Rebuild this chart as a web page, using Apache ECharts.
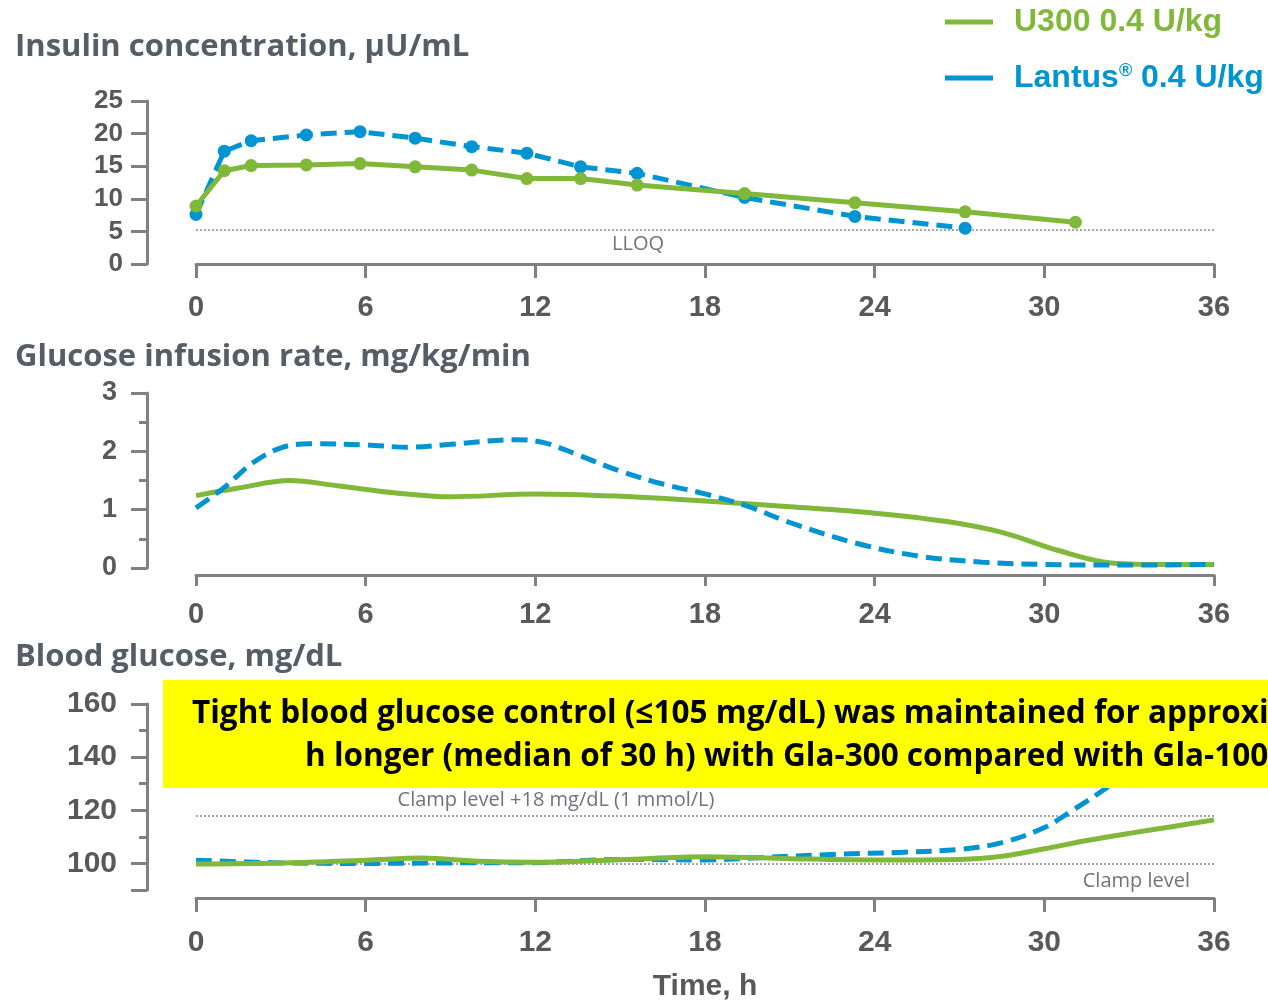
<!DOCTYPE html>
<html>
<head>
<meta charset="utf-8">
<script src="https://cdn.jsdelivr.net/npm/echarts@6/dist/echarts.min.js"></script>
<style>
html,body{margin:0;padding:0;background:#fff;}
#chart{width:1268px;height:1004px;}
</style>
</head>
<body>
<div id="chart"></div>
<script>
// ---------- DATA ----------
const seriesNames = ['U300 0.4 U/kg', 'Lantus® 0.4 U/kg'];

// Insulin concentration (µU/mL)
const insulinTimeU300 = [0, 1.0, 1.95, 3.9, 5.8, 7.75, 9.75, 11.7, 13.6, 15.6, 19.4, 23.3, 27.2, 31.1];
const insulinU300     = [8.9, 14.3, 15.1, 15.2, 15.4, 14.9, 14.4, 13.1, 13.1, 12.1, 10.8, 9.4, 8.0, 6.4];
const insulinTimeLantus = [0, 1.0, 1.95, 3.9, 5.8, 7.75, 9.75, 11.7, 13.6, 15.6, 19.4, 23.3, 27.2];
const insulinLantus     = [7.6, 17.3, 18.9, 19.8, 20.3, 19.3, 18.0, 17.0, 14.9, 13.9, 10.2, 7.3, 5.5];
const lloq = 5.2;

// Glucose infusion rate (mg/kg/min)
const girTimeU300 = [0, 1.5, 3.3, 5, 7, 9, 12, 15, 18, 21, 24, 26.5, 28.5, 30.5, 32.3, 34, 36];
const girU300     = [1.24, 1.37, 1.50, 1.41, 1.29, 1.22, 1.27, 1.23, 1.15, 1.05, 0.94, 0.80, 0.61, 0.30, 0.09, 0.06, 0.06];
const girTimeLantus = [0, 1, 2, 3, 4, 6, 7.5, 9, 11.3, 12.3, 13.5, 15, 16.5, 18, 19.5, 21, 23.3, 25.6, 27.8, 30, 33, 36];
const girLantus     = [1.03, 1.38, 1.80, 2.06, 2.13, 2.11, 2.07, 2.12, 2.20, 2.15, 1.94, 1.66, 1.44, 1.27, 1.06, 0.78, 0.43, 0.20, 0.10, 0.06, 0.05, 0.06];

// Blood glucose (mg/dL)
const bgTimeU300 = [0, 3, 6, 8, 10, 12, 15, 18, 21, 24, 27, 28.5, 30, 31.5, 33, 34.5, 36];
const bgU300     = [99.8, 100.2, 101.2, 102.0, 100.8, 100.4, 101.4, 102.5, 101.8, 101.3, 101.5, 102.7, 105.5, 108.6, 111.3, 113.8, 116.4];
const bgTimeLantus = [0, 3, 6, 9, 12, 15, 18, 20, 22.5, 25, 27, 28.5, 30, 31, 32.2, 33.2];
const bgLantus     = [101.2, 100.2, 100.0, 100.2, 100.3, 101.5, 101.3, 102.2, 103.4, 104.2, 105.3, 107.8, 113.5, 120.0, 128.5, 137.0];
const clampLevel = 100;
const clampPlus = 118;

const bgLabelTicks = [100, 120, 140, 160];
const bgMajorTicks = [90, 100, 120, 140, 160];
const bgMinorTicks = [110, 130, 150];

// ---------- STYLE ----------
const GREEN = '#80b83a';
const BLUE = '#0094d2';
const AXIS = '#808080';
const TEXT = '#595959';
const TITLE = '#555d66';
const NOTE = '#6d747b';
const NUMFONT = '"Liberation Sans", Arial, sans-serif';
const SANS = '"Open Sans", "Noto Sans", sans-serif';

function pairs(xs, ys) { return xs.map((x, i) => [x, ys[i]]); }

const grids = [
  {left: 196, right: 54, top: 101, height: 163, outerBoundsMode: 'none', containLabel: false},
  {left: 196, right: 54, top: 393, height: 175, outerBoundsMode: 'none', containLabel: false},
  {left: 196, right: 54, top: 704, height: 186, outerBoundsMode: 'none', containLabel: false}
];

function xAxisFor(i, offset, extra) {
  return Object.assign({
    type: 'value', gridIndex: i, min: 0, max: 36, interval: 6, offset: offset,
    axisLine: {show: true, onZero: false, lineStyle: {color: AXIS, width: 3}},
    axisTick: {show: true, length: 14, lineStyle: {color: AXIS, width: 3}},
    axisLabel: {fontFamily: NUMFONT, fontWeight: 'bold', fontSize: 29, color: TEXT, margin: 29},
    splitLine: {show: false}
  }, extra || {});
}

const yCommon = {
  type: 'value', position: 'left', offset: 49,
  axisLine: {show: true, onZero: false, lineStyle: {color: AXIS, width: 3}},
  axisTick: {show: true, length: 16, lineStyle: {color: AXIS, width: 3}},
  splitLine: {show: false}
};

const dotted = {type: 'dotted', color: '#a6a6a6', width: 2};

const option = {
  animation: false,
  backgroundColor: '#ffffff',
  grid: grids,
  legend: {
    orient: 'vertical', left: 945, top: 6, itemGap: 24, padding: 0,
    icon: 'rect', itemWidth: 48, itemHeight: 5,
    textStyle: {fontFamily: NUMFONT, fontWeight: 'bold', fontSize: 32, padding: [0, 0, 0, 16],
      rich: {
        g: {fontFamily: NUMFONT, fontWeight: 'bold', fontSize: 32, color: GREEN},
        b: {fontFamily: NUMFONT, fontWeight: 'bold', fontSize: 32, color: BLUE},
        s: {fontFamily: NUMFONT, fontWeight: 'bold', fontSize: 18, color: BLUE, verticalAlign: 'top', padding: [0, 0, 12, 0]}
      }},
    formatter: function (name) {
      if (name === seriesNames[0]) return '{g|' + name + '}';
      return '{b|Lantus}{s|®}{b| 0.4 U/kg}';
    },
    data: [seriesNames[0], seriesNames[1]]
  },
  xAxis: [
    xAxisFor(0, 0),
    xAxisFor(1, 7, {axisTick: {show: true, length: 11, lineStyle: {color: AXIS, width: 3}},
      axisLabel: {fontFamily: NUMFONT, fontWeight: 'bold', fontSize: 29, color: TEXT, margin: 25}}),
    xAxisFor(2, 8, {
      name: 'Time, h', nameLocation: 'middle', nameGap: 74,
      nameTextStyle: {fontFamily: NUMFONT, fontWeight: 'bold', fontSize: 30, color: TEXT},
      axisLabel: {fontFamily: NUMFONT, fontWeight: 'bold', fontSize: 30, color: TEXT, margin: 30}
    })
  ],
  yAxis: [
    Object.assign({}, yCommon, {gridIndex: 0, min: 0, max: 25, interval: 5,
      axisLabel: {fontFamily: NUMFONT, fontWeight: 'bold', fontSize: 26, color: TEXT, margin: 24}}),
    Object.assign({}, yCommon, {gridIndex: 1, min: 0, max: 3, interval: 1,
      minorTick: {show: true, splitNumber: 2, length: 8, lineStyle: {color: AXIS, width: 3}},
      axisLabel: {fontFamily: NUMFONT, fontWeight: 'bold', fontSize: 27, color: TEXT, margin: 30}}),
    Object.assign({}, yCommon, {gridIndex: 2, min: 90, max: 160,
      axisTick: {show: true, length: 16, customValues: bgMajorTicks, lineStyle: {color: AXIS, width: 3}},
      axisLabel: {fontFamily: NUMFONT, fontWeight: 'bold', fontSize: 30, color: TEXT, margin: 30, customValues: bgLabelTicks}}),
    Object.assign({}, yCommon, {gridIndex: 2, min: 90, max: 160,
      axisLine: {show: false, onZero: false},
      axisTick: {show: true, length: 8, customValues: bgMinorTicks, lineStyle: {color: AXIS, width: 3}},
      axisLabel: {show: false}})
  ],
  series: [
    {
      name: seriesNames[1], type: 'line', xAxisIndex: 0, yAxisIndex: 0,
      data: pairs(insulinTimeLantus, insulinLantus),
      symbol: 'circle', symbolSize: 13, color: BLUE, itemStyle: {color: BLUE},
      lineStyle: {color: BLUE, width: 5, type: [16, 8]}, z: 3,
      markLine: {silent: true, symbol: 'none', label: {show: false}, lineStyle: dotted, data: [{yAxis: lloq}], z: 1}
    },
    {
      name: seriesNames[0], type: 'line', xAxisIndex: 0, yAxisIndex: 0,
      data: pairs(insulinTimeU300, insulinU300),
      symbol: 'circle', symbolSize: 13, color: GREEN, itemStyle: {color: GREEN},
      lineStyle: {color: GREEN, width: 5}, z: 4
    },
    {
      name: seriesNames[1], type: 'line', xAxisIndex: 1, yAxisIndex: 1,
      data: pairs(girTimeLantus, girLantus), smooth: 0.35,
      showSymbol: false, symbol: 'none', color: BLUE,
      lineStyle: {color: BLUE, width: 5, type: [16, 8]}, z: 3
    },
    {
      name: seriesNames[0], type: 'line', xAxisIndex: 1, yAxisIndex: 1,
      data: pairs(girTimeU300, girU300), smooth: 0.35,
      showSymbol: false, symbol: 'none', color: GREEN,
      lineStyle: {color: GREEN, width: 5}, z: 2
    },
    {
      name: seriesNames[1], type: 'line', xAxisIndex: 2, yAxisIndex: 2,
      data: pairs(bgTimeLantus, bgLantus), smooth: 0.35,
      showSymbol: false, symbol: 'none', color: BLUE,
      lineStyle: {color: BLUE, width: 5, type: [16, 8]}, z: 3,
      markLine: {silent: true, symbol: 'none', label: {show: false}, lineStyle: dotted,
        data: [{yAxis: clampLevel}, {yAxis: clampPlus}], z: 1}
    },
    {
      name: seriesNames[0], type: 'line', xAxisIndex: 2, yAxisIndex: 2,
      data: pairs(bgTimeU300, bgU300), smooth: 0.35,
      showSymbol: false, symbol: 'none', color: GREEN,
      lineStyle: {color: GREEN, width: 5}, z: 4
    }
  ],
  graphic: [
    {type: 'text', left: 15, top: 32, z: 50, style: {text: 'Insulin concentration, µU/mL', fontFamily: SANS, fontWeight: 'bold', fontSize: 31, fill: TITLE}},
    {type: 'text', left: 15, top: 342, z: 50, style: {text: 'Glucose infusion rate, mg/kg/min', fontFamily: SANS, fontWeight: 'bold', fontSize: 31, fill: TITLE}},
    {type: 'text', left: 15, top: 642, z: 50, style: {text: 'Blood glucose, mg/dL', fontFamily: SANS, fontWeight: 'bold', fontSize: 31, fill: TITLE}},
    {type: 'text', x: 638, y: 244, z: 50, style: {text: 'LLOQ', fontFamily: SANS, fontSize: 20, fill: NOTE, align: 'center', verticalAlign: 'middle'}},
    {type: 'text', x: 556, y: 800, z: 50, style: {text: 'Clamp level +18 mg/dL (1 mmol/L)', fontFamily: SANS, fontSize: 20, fill: NOTE, align: 'center', verticalAlign: 'middle'}},
    {type: 'text', x: 1190, y: 881, z: 50, style: {text: 'Clamp level', fontFamily: SANS, fontSize: 20, fill: NOTE, align: 'right', verticalAlign: 'middle'}},
    {type: 'rect', z: 100, shape: {x: 163, y: 680, width: 1120, height: 108}, style: {fill: '#ffff00'}},
    {type: 'text', z: 101, x: 192, y: 714, style: {text: 'Tight blood glucose control (≤105 mg/dL) was maintained for approximately', fontFamily: SANS, fontWeight: 'bold', fontSize: 31.5, fill: '#000000', verticalAlign: 'middle'}},
    {type: 'text', z: 101, x: 305, y: 757, style: {text: 'h longer (median of 30 h) with Gla-300 compared with Gla-100', fontFamily: SANS, fontWeight: 'bold', fontSize: 31.5, fill: '#000000', verticalAlign: 'middle'}}
  ]
};

const chart = echarts.init(document.getElementById('chart'), null, {renderer: 'canvas'});
chart.setOption(option);
</script>
</body>
</html>
